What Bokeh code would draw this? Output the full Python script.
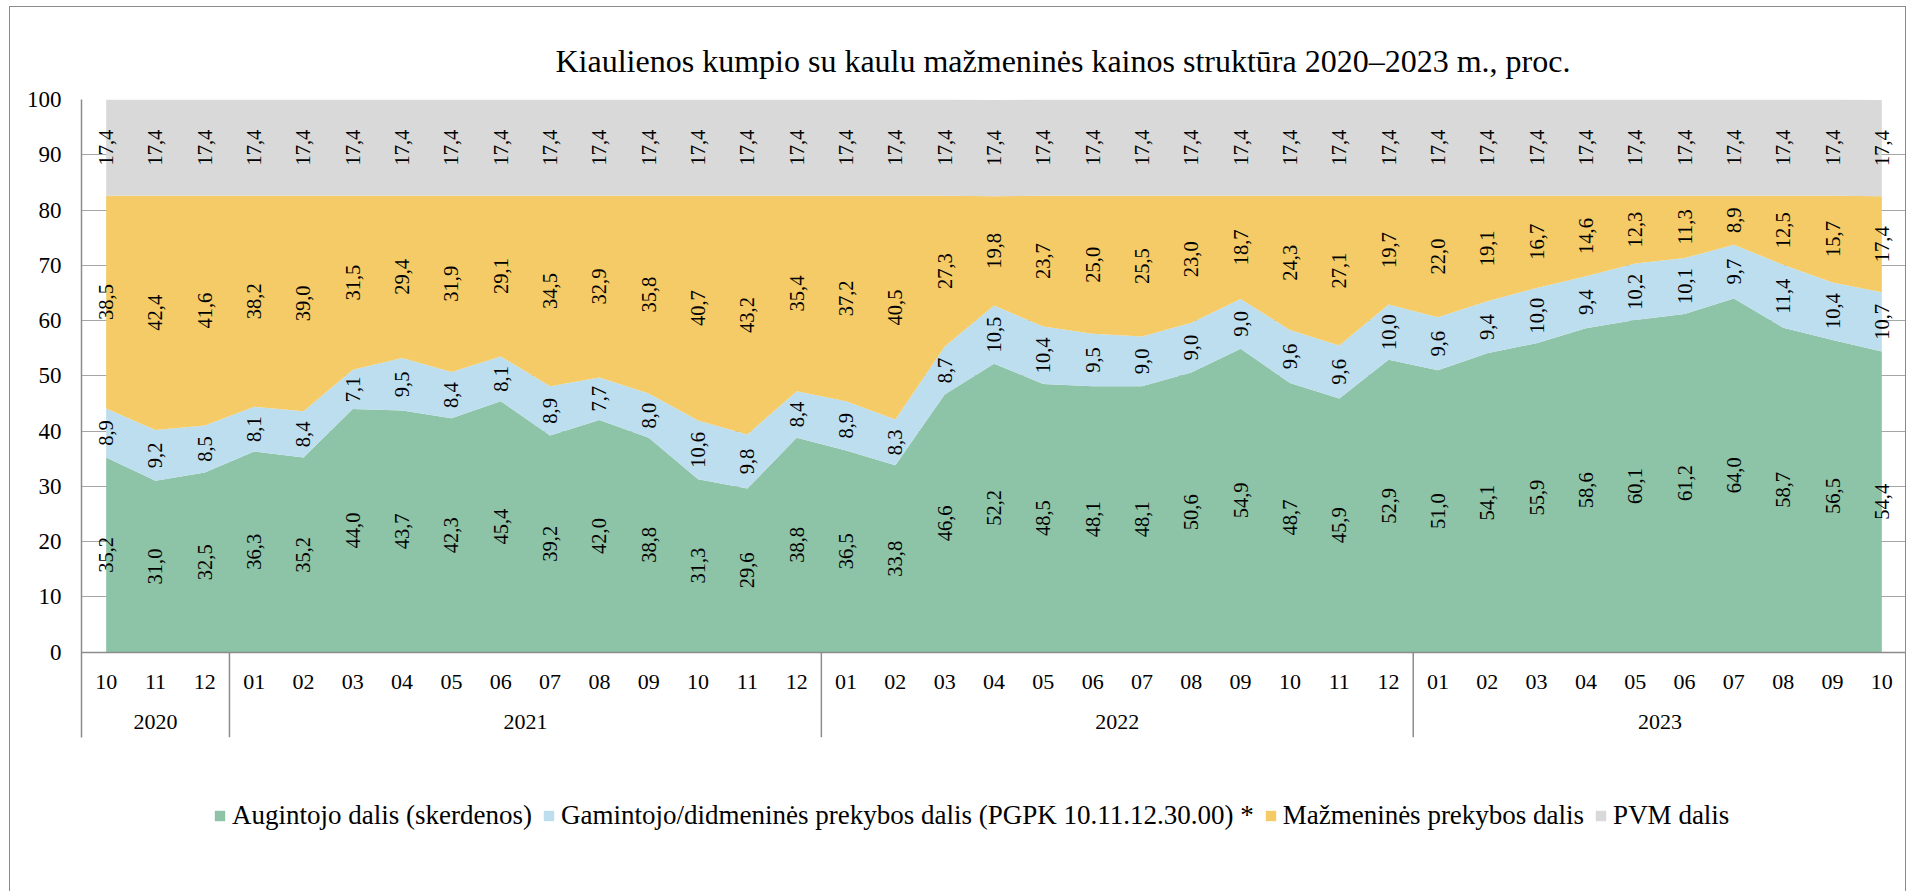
import math
from bokeh.plotting import figure
from bokeh.models import (ColumnDataSource, FactorRange, Range1d, CategoricalAxis,
                          FixedTicker, Legend, LegendItem)
from bokeh.core.properties import value
from bokeh.embed import file_html
from bokeh.resources import INLINE

TITLE = "Kiaulienos kumpio su kaulu mažmeninės kainos struktūra 2020–2023 m., proc."

years = ["2020", "2020", "2020",
         "2021", "2021", "2021", "2021", "2021", "2021", "2021", "2021", "2021", "2021", "2021", "2021",
         "2022", "2022", "2022", "2022", "2022", "2022", "2022", "2022", "2022", "2022", "2022", "2022",
         "2023", "2023", "2023", "2023", "2023", "2023", "2023", "2023", "2023", "2023"]
months = ["10", "11", "12",
          "01", "02", "03", "04", "05", "06", "07", "08", "09", "10", "11", "12",
          "01", "02", "03", "04", "05", "06", "07", "08", "09", "10", "11", "12",
          "01", "02", "03", "04", "05", "06", "07", "08", "09", "10"]

augintojo = [35.2, 31.0, 32.5,
             36.3, 35.2, 44.0, 43.7, 42.3, 45.4, 39.2, 42.0, 38.8, 31.3, 29.6, 38.8,
             36.5, 33.8, 46.6, 52.2, 48.5, 48.1, 48.1, 50.6, 54.9, 48.7, 45.9, 52.9,
             51.0, 54.1, 55.9, 58.6, 60.1, 61.2, 64.0, 58.7, 56.5, 54.4]
gamintojo = [8.9, 9.2, 8.5,
             8.1, 8.4, 7.1, 9.5, 8.4, 8.1, 8.9, 7.7, 8.0, 10.6, 9.8, 8.4,
             8.9, 8.3, 8.7, 10.5, 10.4, 9.5, 9.0, 9.0, 9.0, 9.6, 9.6, 10.0,
             9.6, 9.4, 10.0, 9.4, 10.2, 10.1, 9.7, 11.4, 10.4, 10.7]
mazmenines = [38.5, 42.4, 41.6,
              38.2, 39.0, 31.5, 29.4, 31.9, 29.1, 34.5, 32.9, 35.8, 40.7, 43.2, 35.4,
              37.2, 40.5, 27.3, 19.8, 23.7, 25.0, 25.5, 23.0, 18.7, 24.3, 27.1, 19.7,
              22.0, 19.1, 16.7, 14.6, 12.3, 11.3, 8.9, 12.5, 15.7, 17.4]
pvm = [17.4, 17.4, 17.4,
       17.4, 17.4, 17.4, 17.4, 17.4, 17.4, 17.4, 17.4, 17.4, 17.4, 17.4, 17.4,
       17.4, 17.4, 17.4, 17.4, 17.4, 17.4, 17.4, 17.4, 17.4, 17.4, 17.4, 17.4,
       17.4, 17.4, 17.4, 17.4, 17.4, 17.4, 17.4, 17.4, 17.4, 17.4]

series_names = ["Augintojo dalis (skerdenos)",
                "Gamintojo/didmeninės prekybos dalis (PGPK 10.11.12.30.00) *",
                "Mažmeninės prekybos dalis",
                "PVM dalis"]
series_keys = ["aug", "gam", "maz", "pvm"]
colors = ["#8DC3A7", "#BDDEEF", "#F4CB66", "#D9D9D9"]
y_ticks = [0, 10, 20, 30, 40, 50, 60, 70, 80, 90, 100]

# ---- layout constants (pixels) ----
W, H = 1897, 885
ML, MR, MT, MB = 71, 1, 92, 0
FRAME_H = H - MT - MB
PX_0_TO_100 = 552.6
Y_START = 100 - FRAME_H * 100.0 / PX_0_TO_100
SEP_BOTTOM = -15.4
FONT = "Liberation Serif"
AXIS_COLOR = "#8c8c8c"

factors = list(zip(years, months))
x_range = FactorRange(*factors, factor_padding=0, group_padding=0,
                      subgroup_padding=0, range_padding=0)

p = figure(x_range=x_range, y_range=Range1d(Y_START, 100), width=W, height=H,
           output_backend="svg", toolbar_location=None, x_axis_location=None,
           min_border_left=ML, min_border_right=MR, min_border_top=MT, min_border_bottom=MB,
           styles={"margin-left": "9px", "margin-top": "6px",
                   "border-left": "1px solid #8c8c8c", "border-top": "1px solid #8c8c8c",
                   "border-right": "1px solid #8c8c8c"})
p.outline_line_color = None
p.background_fill_color = "white"
p.border_fill_color = "white"

src = ColumnDataSource(dict(x=factors, aug=augintojo, gam=gamintojo, maz=mazmenines, pvm=pvm))
areas = p.varea_stack(stackers=series_keys, x="x", color=colors, source=src)

# data labels centred in each band
lx, ly, lt = [], [], []
for i, f in enumerate(factors):
    base = 0.0
    for vals in (augintojo, gamintojo, mazmenines, pvm):
        v = vals[i]
        lx.append(f)
        ly.append(base + v / 2.0)
        lt.append(f"{v:.1f}".replace(".", ","))
        base += v
lab_src = ColumnDataSource(dict(x=lx, y=ly, t=lt))
p.text(x="x", y="y", text="t", source=lab_src, angle=math.pi / 2,
       text_align="center", text_baseline="middle", text_color="black",
       text_font=value(FONT), text_font_size="20.5px")

# y axis
yt = FixedTicker(ticks=y_ticks)
p.yaxis.ticker = yt
p.yaxis.bounds = (SEP_BOTTOM, 100)
p.yaxis.axis_line_color = AXIS_COLOR
p.yaxis.axis_line_width = 1.5
p.yaxis.major_tick_line_color = None
p.yaxis.major_tick_out = 0
p.yaxis.major_tick_in = 0
p.yaxis.minor_tick_line_color = None
p.yaxis.minor_tick_out = 0
p.yaxis.major_label_standoff = 20
p.yaxis.major_label_text_font = FONT
p.yaxis.major_label_text_font_size = "23px"
p.yaxis.major_label_text_color = "black"
p.ygrid.ticker = yt
p.ygrid.grid_line_color = "#a6a6a6"
p.ygrid.grid_line_width = 1
p.xgrid.visible = False

# month axis (categorical, inner level) placed at y = 0
xaxis = CategoricalAxis(fixed_location=0)
xaxis.axis_line_color = AXIS_COLOR
xaxis.axis_line_width = 1.5
xaxis.major_tick_line_color = None
xaxis.major_tick_out = 0
xaxis.major_tick_in = 0
xaxis.minor_tick_line_color = None
xaxis.separator_line_color = None
xaxis.group_text_color = None
xaxis.major_label_standoff = 23
xaxis.major_label_orientation = "horizontal"
xaxis.major_label_text_font = FONT
xaxis.major_label_text_font_size = "22px"
xaxis.major_label_text_color = "black"
p.add_layout(xaxis, "below")

# year axis (categorical, outer level) drawn lower
yr_axis = CategoricalAxis(fixed_location=0)
yr_axis.axis_line_color = None
yr_axis.major_tick_line_color = None
yr_axis.major_tick_out = 0
yr_axis.major_tick_in = 0
yr_axis.minor_tick_line_color = None
yr_axis.separator_line_color = None
yr_axis.major_label_text_color = None
yr_axis.major_label_text_font = FONT
yr_axis.major_label_text_font_size = "22px"
yr_axis.major_label_standoff = 63
yr_axis.group_text_font = FONT
yr_axis.group_text_font_size = "22px"
yr_axis.group_text_font_style = "normal"
yr_axis.group_text_color = "black"
p.add_layout(yr_axis, "below")

# group separators at year boundaries (synthetic category coordinates)
seps = []
count = 0
for i, y in enumerate(years):
    count += 1
    if i == len(years) - 1 or years[i + 1] != y:
        seps.append(count)
p.segment(x0=seps, y0=[0] * len(seps), x1=seps, y1=[SEP_BOTTOM] * len(seps),
          line_color=AXIS_COLOR, line_width=1.5)

# title
p.title.text = TITLE
p.title.text_font = FONT
p.title.text_font_size = "32px"
p.title.text_font_style = "normal"
p.title.text_color = "black"
p.title.align = "left"
p.title.offset = 474
p.title.standoff = 42

legend = Legend(items=[LegendItem(label=n, renderers=[r]) for n, r in zip(series_names, areas)],
                orientation="horizontal", location=(132, 61),
                glyph_width=13, glyph_height=13, label_standoff=6, spacing=10,
                padding=0, margin=0, border_line_color=None, background_fill_alpha=0,
                label_text_font=FONT, label_text_font_size="27px", label_text_color="black")
p.add_layout(legend)

open("out.html", "w").write(file_html(p, INLINE))
